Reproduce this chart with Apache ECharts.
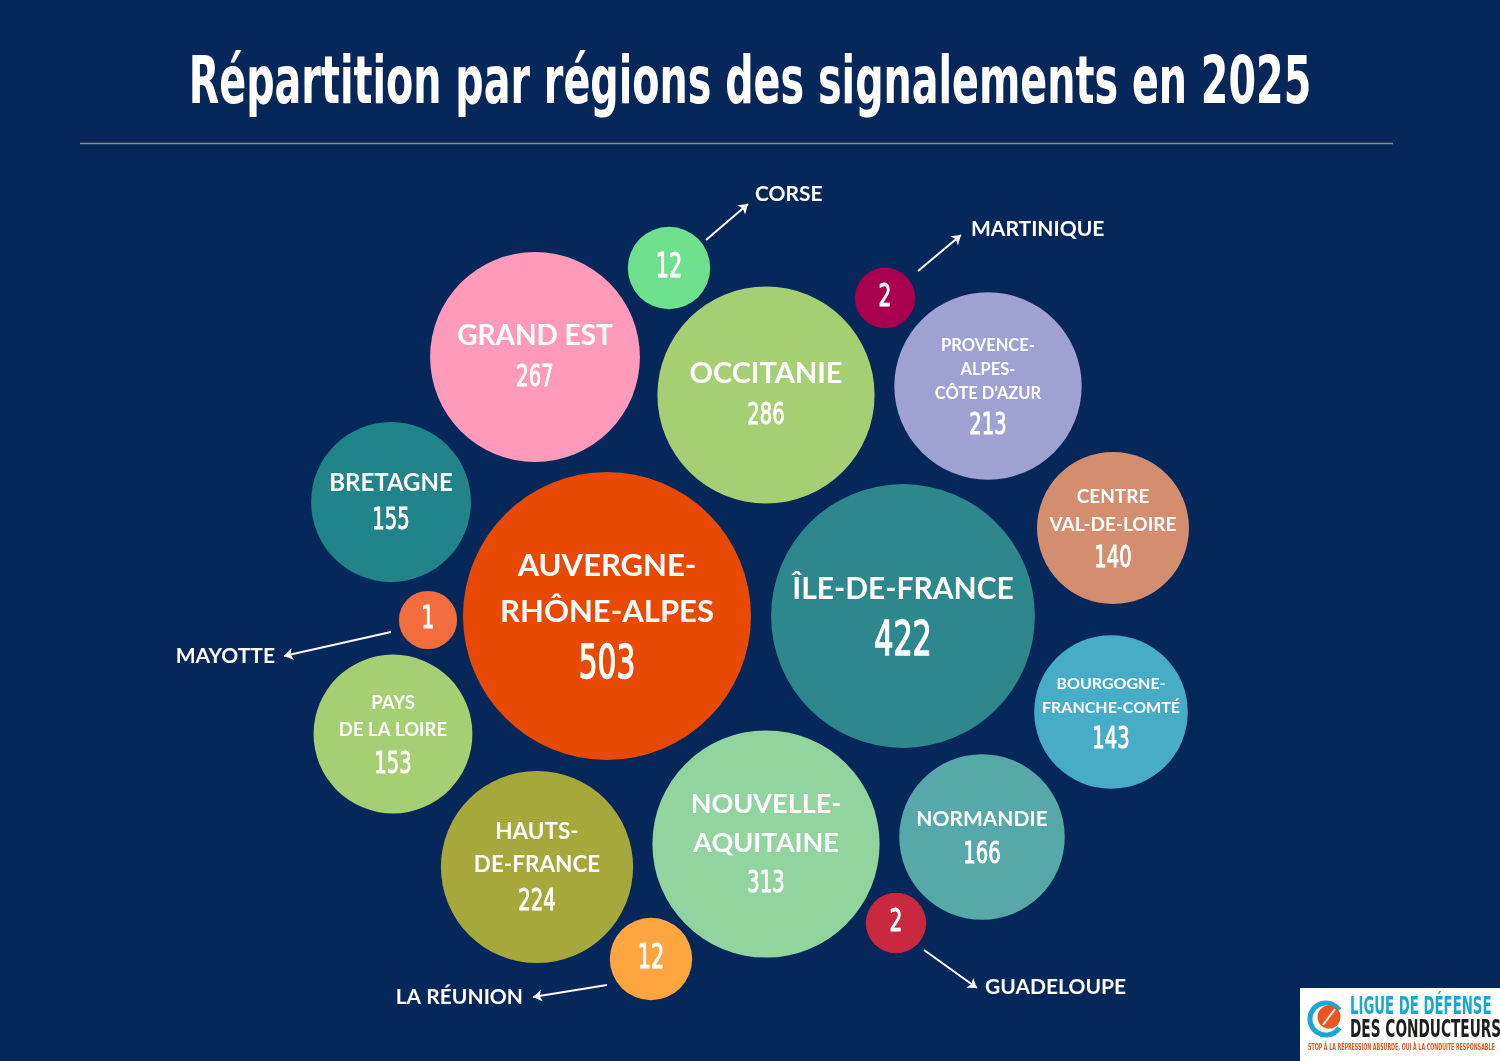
<!DOCTYPE html>
<html><head><meta charset="utf-8">
<script src="https://cdn.jsdelivr.net/npm/echarts@6/dist/echarts.min.js"></script>
<style>html,body{margin:0;padding:0;background:#05275a}#c{width:1500px;height:1061px}</style>
</head><body><div id="c"></div>
<script>
// ---- data ----
const regions = ['GRAND EST','CORSE','OCCITANIE','MARTINIQUE','PROVENCE-ALPES-CÔTE D’AZUR','BRETAGNE','CENTRE-VAL-DE-LOIRE','AUVERGNE-RHÔNE-ALPES','ÎLE-DE-FRANCE','MAYOTTE','BOURGOGNE-FRANCHE-COMTÉ','PAYS DE LA LOIRE','NOUVELLE-AQUITAINE','NORMANDIE','HAUTS-DE-FRANCE','GUADELOUPE','LA RÉUNION'];
const values = [267,12,286,2,213,155,140,503,422,1,143,153,313,166,224,2,12];
const bubbleLabels = ['GRAND EST','','OCCITANIE','','PROVENCE-\nALPES-\nCÔTE D’AZUR','BRETAGNE','CENTRE\nVAL-DE-LOIRE','AUVERGNE-\nRHÔNE-ALPES','ÎLE-DE-FRANCE','','BOURGOGNE-\nFRANCHE-COMTÉ','PAYS\nDE LA LOIRE','NOUVELLE-\nAQUITAINE','NORMANDIE','HAUTS-\nDE-FRANCE','',''];
// outside annotations (for small territories)
const annotNames = ['CORSE','MARTINIQUE','MAYOTTE','LA RÉUNION','GUADELOUPE'];

// ---- layout (bubble pack positions) ----
const layoutX = [535,669,766,885,988,391,1113,607,903,428,1111,393,766,982,537,896,651];
const layoutY = [357,268,395,298,386,502,528,616,616,620,712,734,844,837,867,923,959];
const annotX = [755,971,275,523,985];
const annotY = [194,229,656,997,987];
const annotAlign = ['left','left','right','right','left'];
const arrowFrom = [[706,240],[918,271],[391,632],[607,985],[924,950]];
const arrowTo = [[748,204],[961,235],[284,656],[533,997],[977,988]];

// ---- styles ----
const colors = ['#ff9abb','#6fe08c','#a4cf73','#a8004f','#a0a1d3','#21848a','#d38e70','#e84a06','#2e878d','#f36d3e','#47adc7','#a4cf73','#92d49d','#57a8a8','#a6a83b','#c9283f','#ffa540'];
const nameSizes = [28,0,29,0,16.5,24,19,31,30,0,16,18.5,27,21,22.5,0,0];
const valueSizes = [31,33,31,32,31,31,31,47,48,32,31,31,31,31,31,32,33];

function diam(v){ return v >= 100 ? 288*Math.sqrt(v/503) : 56 + 2.2*v; }

const NAME_FONT = 'Lato';
const NUM_FONT = '"DejaVu Sans Condensed"';

function renderBubble(params, api){
  const i = api.value(3), v = api.value(2);
  const c = api.coord([api.value(0), api.value(1)]);
  const r = diam(v)/2;
  const children = [{type:'circle', shape:{cx:c[0], cy:c[1], r:r}, style:{fill:colors[i]}}];
  const lines = bubbleLabels[i] ? bubbleLabels[i].split('\n') : [];
  const ns = nameSizes[i], vs = valueSizes[i];
  let numY = c[1];
  if (lines.length){
    const Ln = ns*1.46;
    const gap = ns*0.74 + vs*0.66;
    const span = (lines.length-1)*Ln + gap;
    const firstY = c[1] - span/2;
    numY = firstY + span;
    lines.forEach((l,k)=>children.push({type:'text', x:c[0], y:firstY + k*Ln,
      style:{text:l, fill:'#fff', fontFamily:NAME_FONT, fontWeight:'bold', fontSize:ns, align:'center', verticalAlign:'middle'}}));
  }
  children.push({type:'text', x:c[0], y:numY, scaleX:0.7,
    style:{text:String(v), fill:'#fff', stroke:'#fff', lineWidth: vs > 40 ? 1.4 : 1, fontFamily:NUM_FONT, fontSize:vs, align:'center', verticalAlign:'middle'}});
  return {type:'group', children:children};
}

const annotData = annotNames.map((n,i)=>({
  name: n, value: [annotX[i], annotY[i]],
  label: {show:true, position: annotAlign[i]==='left' ? 'right' : 'left', distance: 0, formatter: n,
    fontFamily: NAME_FONT, fontWeight:'bold', fontSize: 21, color:'#ffffff'}
}));

const arrowData = arrowFrom.map((f,i)=>({coords:[f, arrowTo[i]]}));

const chart = echarts.init(document.getElementById('c'), null, {renderer:'canvas'});
chart.setOption({
  backgroundColor: '#05275a',
  animation: false,
  grid: {left:0, right:0, top:0, bottom:0},
  xAxis: {type:'value', min:0, max:1500, show:false},
  yAxis: {type:'value', min:0, max:1061, inverse:true, show:false},
  graphic: [
    {type:'text', x:750, y:86, scaleX:0.668, originX:0, originY:0,
      style:{text:'Répartition par régions des signalements en 2025', fill:'#fff', font:'bold 66px "DejaVu Sans Condensed"', textAlign:'center', textVerticalAlign:'middle'}},
    {type:'line', shape:{x1:80,y1:143.5,x2:1393,y2:143.5}, style:{stroke:'#9c8f63', lineWidth:1.5}},
    {type:'group', x:1300, y:988, children:[
      {type:'rect', shape:{x:0,y:0,width:200,height:73}, style:{fill:'#fff'}},
      {type:'arc', shape:{cx:26,cy:31,r:16,startAngle:0.6,endAngle:5.7}, style:{stroke:'#1aa8d2', lineWidth:5, fill:null}},
      {type:'circle', shape:{cx:29,cy:29,r:11.5}, style:{fill:'#e8571e'}},
      {type:'line', shape:{x1:23,y1:37,x2:35,y2:21}, style:{stroke:'#fff', lineWidth:2}},
      {type:'text', x:50, y:8, scaleX:0.615, style:{text:'LIGUE DE DÉFENSE', fill:'#1aa8d2', font:'bold 24px "DejaVu Sans Condensed"'}},
      {type:'text', x:50, y:31, scaleX:0.634, style:{text:'DES CONDUCTEURS', fill:'#1d1d1b', font:'bold 24px "DejaVu Sans Condensed"'}},
      {type:'text', x:8, y:56, scaleX:0.66, style:{text:'STOP À LA RÉPRESSION ABSURDE, OUI À LA CONDUITE RESPONSABLE', fill:'#e8571e', font:'bold 8px "DejaVu Sans Condensed"'}}
    ]}
  ],
  series: [
    {type:'custom', coordinateSystem:'cartesian2d', renderItem: renderBubble,
      data: values.map((v,i)=>({name:regions[i], value:[layoutX[i], layoutY[i], v, i]})), z:2},
    {type:'scatter', data: annotData, symbolSize: 0, itemStyle:{opacity:1}, z:3},
    {type:'lines', coordinateSystem:'cartesian2d', data: arrowData, symbol:['none','arrow'], symbolSize:9,
      lineStyle:{color:'#fff', width:2, opacity:1}, z:3}
  ]
});
</script></body></html>
